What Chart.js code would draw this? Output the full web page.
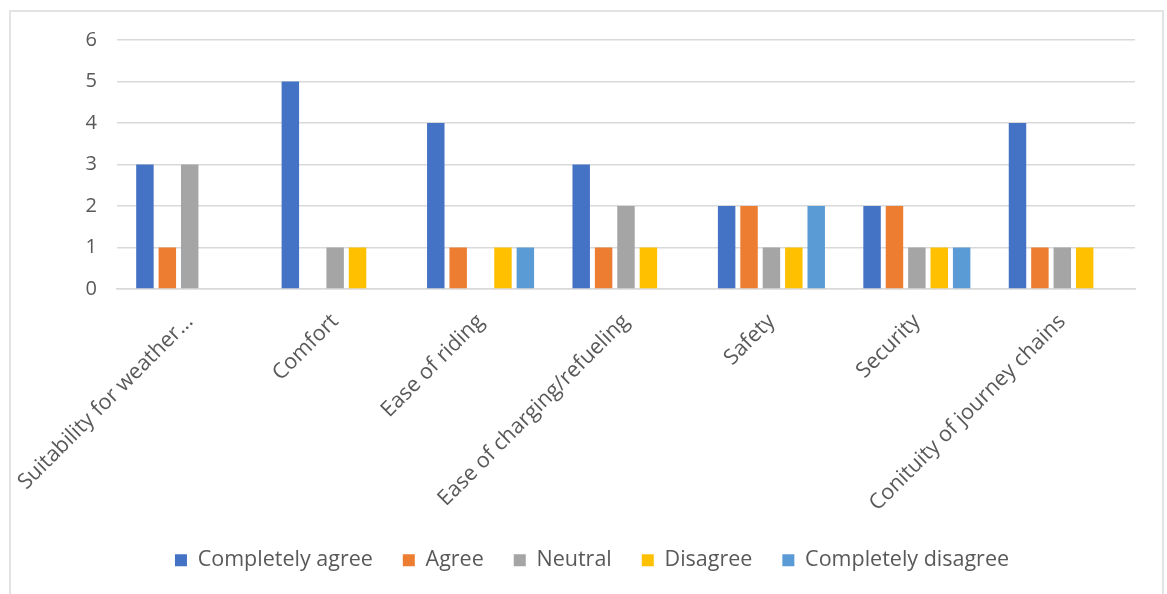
<!DOCTYPE html>
<html>
<head>
<meta charset="utf-8">
<script src="https://cdn.jsdelivr.net/npm/chart.js@4"></script>
<style>
  html, body { margin: 0; padding: 0; background: #fff; }
  #frame {
    position: absolute; left: 9px; top: 10px; width: 1155px; height: 620px;
    border: 2px solid #e3e3e3; box-sizing: border-box;
  }
  #wrap { position: absolute; left: 0; top: 0; width: 1167px; height: 594px; }
</style>
</head>
<body>
<div id="frame"></div>
<div id="wrap"><canvas id="myChart" width="1167" height="594"></canvas></div>
<script>
const categories = ['Suitability for weather...', 'Comfort', 'Ease of riding', 'Ease of charging/refueling', 'Safety', 'Security', 'Conituity of journey chains'];
const seriesNames = ['Completely agree', 'Agree', 'Neutral', 'Disagree', 'Completely disagree'];
const completelyAgree = [3, 5, 4, 3, 2, 2, 4];
const agree = [1, 0, 1, 1, 2, 2, 1];
const neutral = [3, 1, 0, 2, 1, 1, 1];
const disagree = [0, 1, 1, 1, 1, 1, 1];
const completelyDisagree = [0, 0, 1, 0, 2, 1, 0];
const yTicks = [0, 1, 2, 3, 4, 5, 6];

const colors = ['#4472C4', '#ED7D31', '#A5A5A5', '#FFC000', '#5B9BD5'];
const values = [completelyAgree, agree, neutral, disagree, completelyDisagree];

const textColor = '#595959';
const fontFamily = '"Open Sans", sans-serif';

const ctx = document.getElementById('myChart').getContext('2d');
const myChart = new Chart(ctx, {
    type: 'bar',
    data: {
        labels: categories,
        datasets: seriesNames.map((name, i) => ({
            label: name,
            data: values[i],
            backgroundColor: colors[i],
            borderWidth: 0,
            categoryPercentage: 0.77,
            barPercentage: 0.78
        }))
    },
    options: {
        responsive: false,
        animation: false,
        layout: {
            padding: { top: 40, right: 32, left: 49, bottom: 13 }
        },
        plugins: {
            tooltip: { enabled: false },
            legend: {
                position: 'bottom',
                labels: {
                    color: textColor,
                    font: { family: fontFamily, size: 21.5 },
                    boxWidth: 12,
                    boxHeight: 12,
                    padding: 30
                }
            }
        },
        scales: {
            y: {
                min: 0,
                max: 6,
                afterBuildTicks: (scale) => {
                    scale.ticks = yTicks.map(v => ({ value: v }));
                },
                afterFit: (scale) => {
                    scale.width = 68;
                    scale.paddingTop = 0;
                    scale.paddingBottom = 0;
                },
                border: { display: false },
                grid: { color: '#d9d9d9', lineWidth: 1.5, drawTicks: false },
                ticks: {
                    color: textColor,
                    font: { family: fontFamily, size: 20 },
                    padding: 20
                }
            },
            x: {
                afterFit: (scale) => {
                    scale.height = 230.5;
                    scale.paddingLeft = 0;
                    scale.paddingRight = 0;
                },
                border: { color: '#d9d9d9', width: 1.5 },
                grid: { display: false },
                ticks: {
                    color: textColor,
                    font: { family: fontFamily, size: 21.5 },
                    maxRotation: 45,
                    minRotation: 45,
                    autoSkip: false,
                    padding: 12
                }
            }
        }
    }
});
</script>
</body>
</html>
